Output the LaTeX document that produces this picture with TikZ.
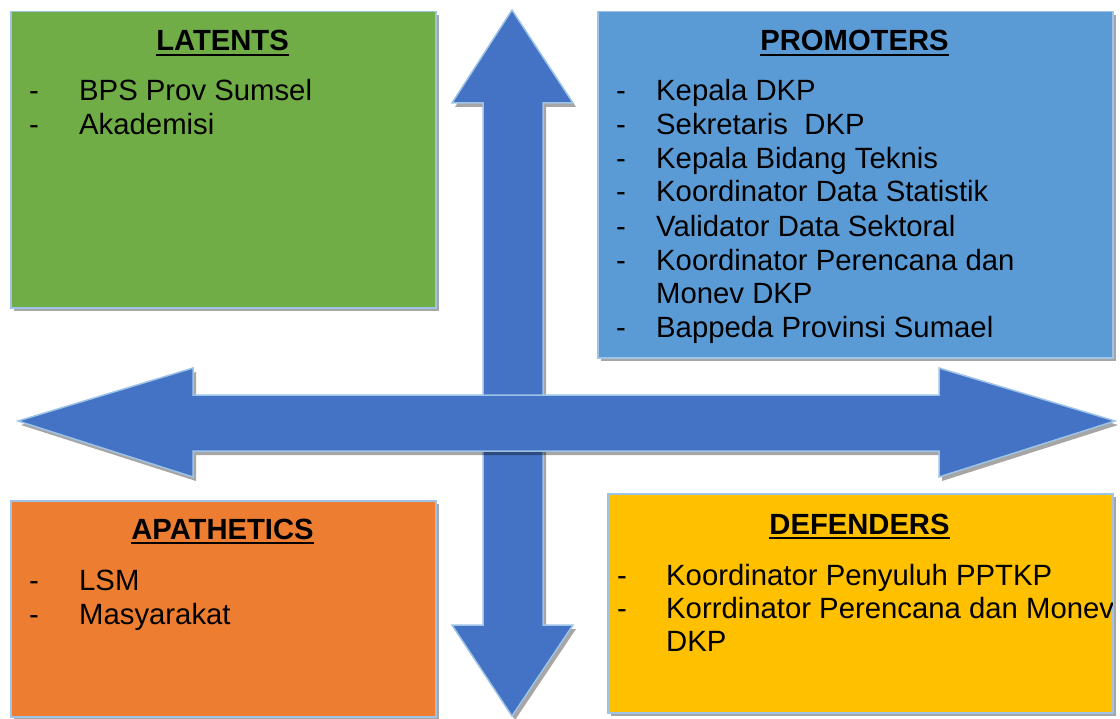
\documentclass[tikz,border=0pt]{standalone}
\usepackage{fontspec}
\setmainfont{Liberation Sans}
\usetikzlibrary{shadows}
\definecolor{cgreen}{HTML}{70AD47}
\definecolor{cblue}{HTML}{5B9BD5}
\definecolor{corange}{HTML}{ED7D31}
\definecolor{cgold}{HTML}{FFC000}
\definecolor{carrow}{HTML}{4472C4}
\definecolor{boxline}{HTML}{9DC3E6}
\tikzset{
  box/.style={draw=boxline, line width=1.5bp, inner sep=0pt, anchor=north west,
    drop shadow={shadow xshift=3bp, shadow yshift=-3bp, fill=black, opacity=0.35}},
  bigarrow/.style={fill=carrow, draw=boxline, line width=1.5bp, line join=miter,
    drop shadow={shadow xshift=3bp, shadow yshift=-4bp, fill=black, opacity=0.35}},
  ttl/.style={font=\bfseries\fontsize{29.2bp}{34bp}\selectfont, inner sep=0pt, anchor=base},
  itm/.style={font=\fontsize{29.3bp}{34bp}\selectfont, inner sep=0pt, anchor=base west},
  uline/.style={line width=2.8bp},
}
\newcommand{\ulinetitle}[1]{\draw[uline] ([yshift=-4bp]#1.base west) -- ([yshift=-4bp]#1.base east);}
\begin{document}
\begin{tikzpicture}[x=1bp,y=-1bp]
\useasboundingbox (0,0) rectangle (1120,719);
% boxes
\node[box, fill=cgreen, minimum width=425bp, minimum height=296bp] (lat) at (10,11) {};
\node[box, fill=cblue, minimum width=515bp, minimum height=346bp] (pro) at (597,11) {};
\node[box, fill=corange, minimum width=425bp, minimum height=216bp] (apa) at (10,500) {};
\node[box, fill=cgold, minimum width=505bp, minimum height=219bp] (def) at (607,493) {};
% vertical arrow
\draw[bigarrow] (512,10) coordinate (vt) -- (573,103) -- (543,103) -- (543,625) -- (573,625)
  -- (512,716) coordinate (vb) -- (452,625) -- (483,625) -- (483,103) -- (452,103) -- cycle;
% horizontal arrow
\draw[bigarrow] (18,421) coordinate (hl) -- (193,368) -- (193,395) -- (939,395) -- (939,368)
  -- (1115,421) coordinate (hr) -- (939,477) -- (939,451) -- (193,451) -- (193,477) -- cycle;
% LATENTS
\node[ttl] (latt) at (222.5,51) {LATENTS};
\ulinetitle{latt}
\node[itm] (l1d) at (29,101) {-};
\node[itm] (l1) at (79,101) {BPS Prov Sumsel};
\node[itm] (l2d) at (29,135) {-};
\node[itm] (l2) at (79,135) {Akademisi};
% PROMOTERS
\node[ttl] (prot) at (854.5,51) {PROMOTERS};
\ulinetitle{prot}
\node[itm] (p1d) at (616,101) {-};
\node[itm] (p1) at (656,101) {Kepala DKP};
\node[itm] (p2d) at (616,135) {-};
\node[itm] (p2) at (656,135) {Sekretaris\ \ DKP};
\node[itm] (p3d) at (616,169) {-};
\node[itm] (p3) at (656,169) {Kepala Bidang Teknis};
\node[itm] (p4d) at (616,202) {-};
\node[itm] (p4) at (656,202) {Koordinator Data Statistik};
\node[itm] (p5d) at (616,236) {-};
\node[itm] (p5) at (656,236) {Validator Data Sektoral};
\node[itm] (p6d) at (616,270) {-};
\node[itm] (p6) at (656,270) {Koordinator Perencana dan};
\node[itm] (p6b) at (656,303) {Monev DKP};
\node[itm] (p7d) at (616,337) {-};
\node[itm] (p7) at (656,337) {Bappeda Provinsi Sumael};
% APATHETICS
\node[ttl] (apat) at (222.5,539) {APATHETICS};
\ulinetitle{apat}
\node[itm] (a1d) at (29,590) {-};
\node[itm] (a1) at (79,590) {LSM};
\node[itm] (a2d) at (29,624) {-};
\node[itm] (a2) at (79,624) {Masyarakat};
% DEFENDERS
\node[ttl] (deft) at (859.5,534) {DEFENDERS};
\ulinetitle{deft}
\begin{scope}
\clip (def.north west) rectangle ([xshift=-1bp]def.south east);
\node[itm] (d1d) at (617,585) {-};
\node[itm] (d1) at (666,585) {Koordinator Penyuluh PPTKP};
\node[itm] (d2d) at (617,618) {-};
\node[itm] (d2) at (666,618) {Korrdinator Perencana dan Monev};
\node[itm] (d2b) at (666,651) {DKP};
\end{scope}
\end{tikzpicture}
\end{document}
